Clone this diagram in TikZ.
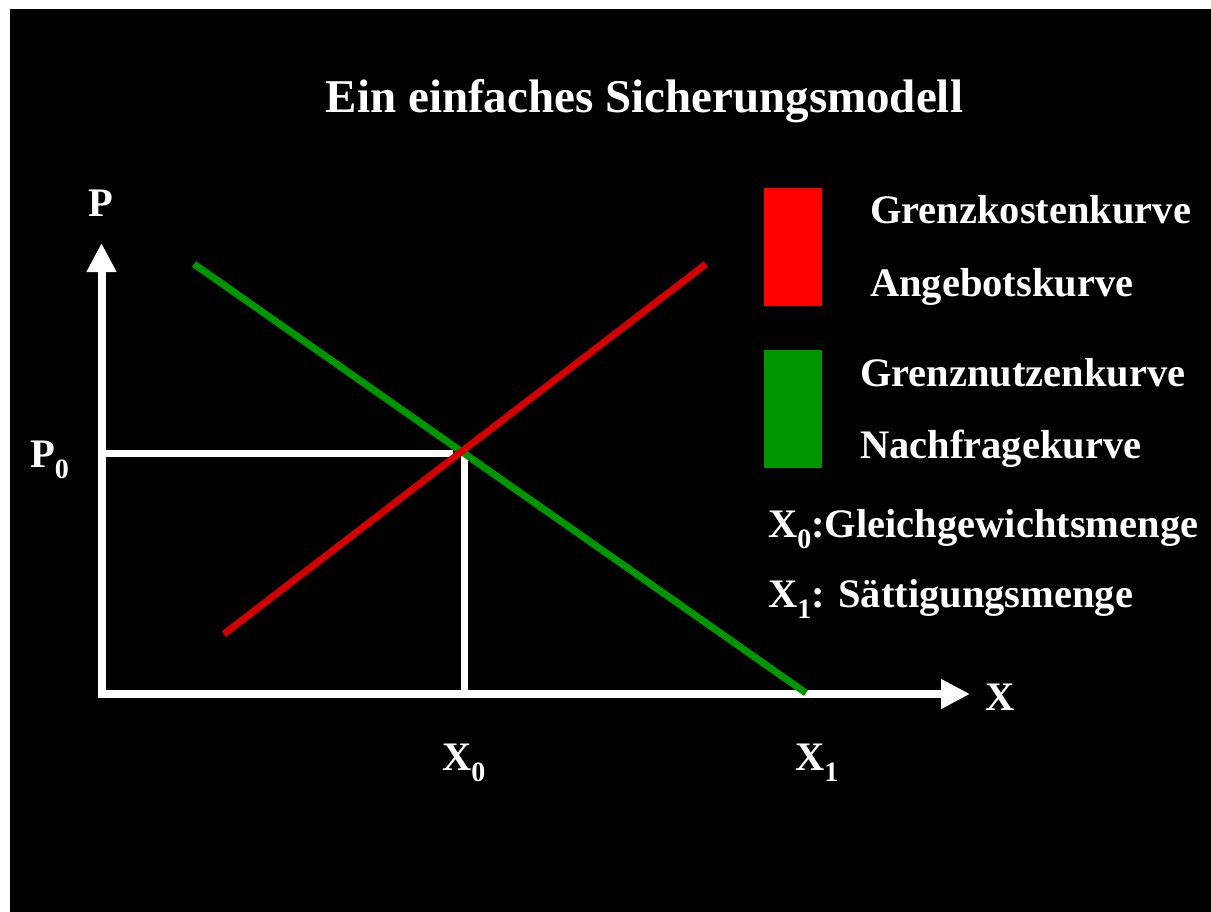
\documentclass[tikz,border=0pt]{standalone}
\usepackage{fontspec}
\setmainfont{Liberation Serif}
\usetikzlibrary{arrows.meta}
\definecolor{lred}{RGB}{255,0,0}
\definecolor{cred}{RGB}{210,0,0}
\definecolor{cgreen}{RGB}{0,150,0}
\newcommand\lsub[1]{\raisebox{-11pt}{\fontsize{28}{28}\selectfont #1}}
\tikzset{
  lbl/.style={text=white,font=\fontsize{40.5}{40.5}\selectfont\bfseries,inner sep=0pt,anchor=base west},
  axis/.style={draw=white,line width=8pt,-{Triangle[width=28pt,length=29pt]}},
  guide/.style={draw=white,line width=7pt},
  curve/.style={line width=7pt},
  swatch/.style={draw=none,inner sep=0pt,minimum width=58pt,minimum height=118pt}
}
\begin{document}
\begin{tikzpicture}[x=1pt,y=-1pt]
\useasboundingbox (0,0) rectangle (1211,911);
\fill[white] (0,0) rectangle (1211,911);
\fill[black] (10,9) rectangle (1220,920);
% title
\node[lbl,anchor=base,font=\fontsize{47}{47}\selectfont\bfseries] (title) at (644.5,112) {Ein einfaches Sicherungsmodell};
% axes
\coordinate (O) at (101.5,694);
\coordinate (Ptip) at (101.5,243);
\coordinate (Xtip) at (970,694);
\draw[axis] ([yshift=4pt]O) -- (Ptip);
\draw[axis] ([xshift=-4pt]O) -- (Xtip);
% guide lines
\coordinate (Eq) at (462,452);
\coordinate (P0l) at (101.5,453.5);
\coordinate (P0r) at (453,453.5);
\coordinate (X0t) at (464.5,451);
\coordinate (X0b) at (464.5,694);
\draw[guide] (P0l) -- (P0r);
\draw[guide] (X0t) -- (X0b);
% curves
\coordinate (Gs) at (194,264);
\coordinate (Ge) at (806,693);
\coordinate (Rs) at (224,634);
\coordinate (Re) at (706,264);
\draw[curve,cgreen] (Gs) -- (Ge);
\draw[curve,cred] (Rs) -- (Re);
% axis labels
\node[lbl,anchor=base] (P) at (101,216) {P};
\node[lbl] (X) at (985,710) {X};
\node[lbl] (P0) at (30,467) {P\lsub{0}};
\node[lbl] (X0) at (442,770) {X\lsub{0}};
\node[lbl] (X1) at (795,770) {X\lsub{1}};
% legend
\node[swatch,fill=lred] (sw1) at (793,247) {};
\node[swatch,fill=cgreen] (sw2) at (793,409) {};
\node[lbl] (l1) at (870,223) {Grenzkostenkurve};
\node[lbl] (l2) at (870,296) {Angebotskurve};
\node[lbl] (l3) at (860,386) {Grenznutzenkurve};
\node[lbl] (l4) at (860,458) {Nachfragekurve};
\node[lbl] (l5) at (768,537) {X\lsub{0}:Gleichgewichtsmenge};
\node[lbl] (l6) at (768,607) {X\lsub{1}: Sättigungsmenge};
\end{tikzpicture}
\end{document}
